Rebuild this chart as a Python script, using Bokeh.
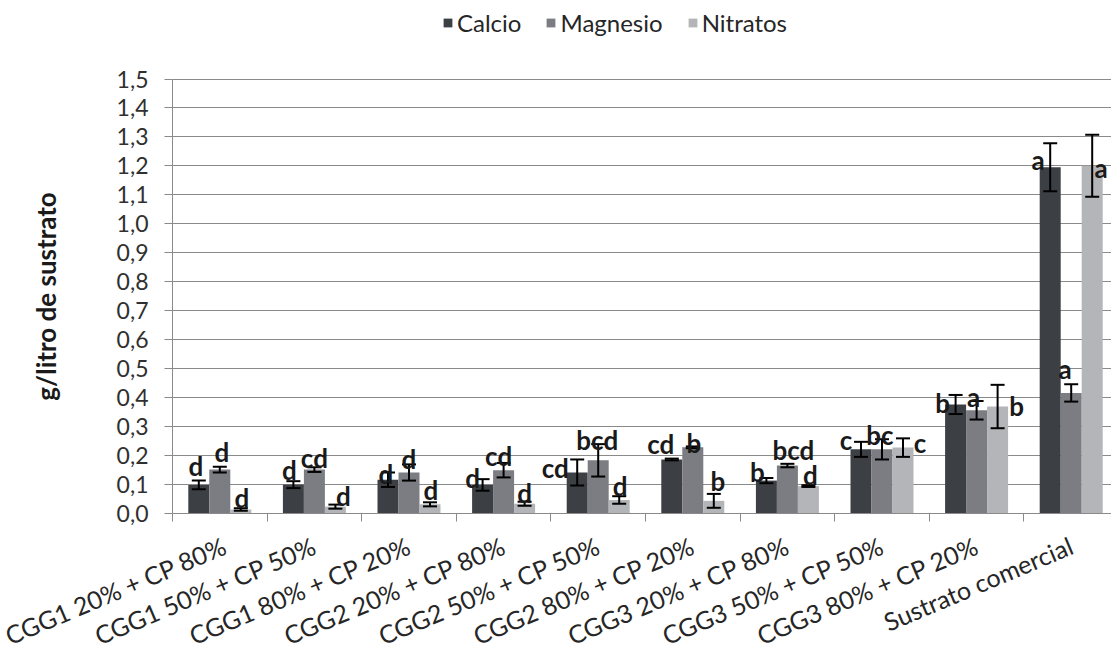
import numpy as np
from bokeh.plotting import figure
from bokeh.models import (ColumnDataSource, Range1d, FixedTicker, Whisker, TeeHead,
                          Legend, LegendItem, CustomJSTickFormatter)
from bokeh.core.properties import value
from bokeh.embed import file_html
from bokeh.resources import INLINE

# ---- data -------------------------------------------------------------
categories = ["CGG1 20% + CP 80%", "CGG1 50% + CP 50%", "CGG1 80% + CP 20%",
              "CGG2 20% + CP 80%", "CGG2 50% + CP 50%", "CGG2 80% + CP 20%",
              "CGG3 20% + CP 80%", "CGG3 50% + CP 50%", "CGG3 80% + CP 20%",
              "Sustrato comercial"]

calcio       = [0.097, 0.098, 0.115, 0.097, 0.140, 0.185, 0.112, 0.220, 0.375, 1.195]
calcio_err   = [0.015, 0.012, 0.025, 0.020, 0.045, 0.003, 0.009, 0.026, 0.033, 0.083]
magnesio     = [0.150, 0.150, 0.140, 0.148, 0.182, 0.227, 0.164, 0.220, 0.355, 0.415]
magnesio_err = [0.010, 0.008, 0.028, 0.025, 0.056, 0.003, 0.006, 0.035, 0.032, 0.030]
nitratos     = [0.012, 0.022, 0.030, 0.032, 0.045, 0.042, 0.093, 0.226, 0.368, 1.200]
nitratos_err = [0.004, 0.007, 0.007, 0.007, 0.013, 0.024, 0.003, 0.032, 0.075, 0.107]

letras_calcio   = ["d", "d", "d", "d", "cd", "cd", "b", "c", "b", "a"]
letras_magnesio = ["d", "cd", "d", "cd", "bcd", "b", "bcd", "bc", "a", "a"]
letras_nitratos = ["d", "d", "d", "d", "d", "b", "d", "c", "b", "a"]

y_ticks = [i / 10 for i in range(16)]
Y_MAX = 1.5

# ---- letter placement (pixel offsets from the top of each error bar) --
dx_calcio   = [-3, -4, -2, -10, -22, -11, -9, -15, -13, -12]
dy_calcio   = [15, 11, -2, 1, -9, 15, 6, 2, -8, -17]
dx_magnesio = [2, 0, 0, -5, -1, 1, 6, -2, -3, -6]
dy_magnesio = [15, 9, 5, 7, 4, 3, 14, 4, 4, 15]
dx_nitratos = [1, 8, 1, 0, 1, 4, 2, 17, 19, 9]
dy_nitratos = [10, 9, 12, 9, 10, 13, 10, -5, -21, -33]

series = [
    ("Calcio", calcio, calcio_err, letras_calcio, dx_calcio, dy_calcio, "#3c4045"),
    ("Magnesio", magnesio, magnesio_err, letras_magnesio, dx_magnesio, dy_magnesio, "#7c7d82"),
    ("Nitratos", nitratos, nitratos_err, letras_nitratos, dx_nitratos, dy_nitratos, "#b3b5b8"),
]

BAR_W = 0.222
FONT = "Lato"
GRID = "#8a8a8a"

# The frame fills the whole canvas. Both axes sit at fixed data locations
# (x = 0, y = 0); the margins around the value area hold the axis labels,
# the rotated category names and the legend.
W, H = 1111, 650
ZERO_X_PX = 172          # left edge of the value area
CAT_PX = 94.6            # width of one category
ZERO_PX = 512.5          # y = 0, from the top
AXIS_H = 434             # height of 0..1.5
px_per_unit = AXIS_H / Y_MAX
y_start = -(H - ZERO_PX) / px_per_unit
y_end = ZERO_PX / px_per_unit
x_start = -ZERO_X_PX / CAT_PX
x_end = (W - ZERO_X_PX) / CAT_PX

n = len(categories)
centres = [i + 0.5 for i in range(n)]
bounds = list(range(n + 1))

p = figure(width=W, height=H, output_backend="svg", toolbar_location=None,
           x_range=Range1d(x_start, x_end), y_range=Range1d(y_start, y_end),
           min_border_left=0, min_border_right=0, min_border_top=0,
           min_border_bottom=0)
p.outline_line_color = None
p.background_fill_color = "white"
p.border_fill_color = "white"

# horizontal gridlines over the value area only
if "cross_bounds" in p.ygrid[0].properties():
    p.ygrid.ticker = FixedTicker(ticks=y_ticks)
    p.ygrid.cross_bounds = (0, x_end)
    p.ygrid.grid_line_color = GRID
    p.ygrid.grid_line_width = 1
else:
    p.ygrid.visible = False
    p.segment(x0=0, x1=x_end, y0=y_ticks, y1=y_ticks,
              line_color=GRID, line_width=1, level="underlay")
p.xgrid.visible = False

renderers = []
for k, (name, vals, errs, letters, dxs, dys, color) in enumerate(series):
    offset = (k - 1) * BAR_W
    xs = [c + offset for c in centres]
    src = ColumnDataSource(dict(
        x=xs, top=vals,
        upper=[v + e for v, e in zip(vals, errs)],
        lower=[v - e for v, e in zip(vals, errs)],
        letter=letters, dx=dxs, dy=[-d for d in dys],
    ))
    r = p.vbar(x="x", top="top", bottom=0, width=BAR_W, source=src,
               fill_color=color, line_color=None)
    renderers.append((name, r))
    w = Whisker(base="x", upper="upper", lower="lower", source=src,
                line_color="black", line_width=2, level="annotation",
                upper_head=TeeHead(size=14, line_color="black", line_width=2),
                lower_head=TeeHead(size=14, line_color="black", line_width=2))
    p.add_layout(w)
    p.text(x="x", y="upper", text="letter", x_offset="dx", y_offset="dy",
           source=src, text_align="center", text_baseline="alphabetic",
           text_font=value(FONT), text_font_style="bold",
           text_font_size="26px", text_color="#1a1a1a", level="overlay")

# ---- axes -------------------------------------------------------------
xa = p.xaxis[0]
xa.fixed_location = 0
xa.bounds = (0, x_end)
xa.ticker = FixedTicker(ticks=centres, minor_ticks=bounds)
xa.major_label_overrides = {c: name for c, name in zip(centres, categories)}
xa.major_label_orientation = 0.40
xa.major_tick_out = 0
xa.major_tick_in = 0
xa.minor_tick_out = 8
xa.minor_tick_in = 0
xa.minor_tick_line_color = GRID
xa.axis_line_color = GRID
xa.major_label_text_font = FONT
xa.major_label_text_font_size = "25px"
xa.major_label_text_color = "#262626"
xa.major_label_standoff = 23

ya = p.yaxis[0]
ya.fixed_location = 0
ya.bounds = (0, Y_MAX)
ya.ticker = FixedTicker(ticks=y_ticks, minor_ticks=[])
ya.formatter = CustomJSTickFormatter(code="return tick.toFixed(1).replace('.', ',');")
ya.major_tick_out = 8
ya.major_tick_in = 0
ya.major_tick_line_color = GRID
ya.axis_line_color = GRID
ya.major_label_text_font = FONT
ya.major_label_text_font_size = "23px"
ya.major_label_text_color = "#303030"
ya.major_label_standoff = 16
ya.axis_label = "g/litro de sustrato"
ya.axis_label_text_font = FONT
ya.axis_label_text_font_style = "bold"
ya.axis_label_text_font_size = "26px"
ya.axis_label_text_color = "#1a1a1a"
ya.axis_label_standoff = 52

# ---- legend (strip above the top gridline) ----------------------------
legend = Legend(items=[LegendItem(label=nm, renderers=[r]) for nm, r in renderers],
                orientation="horizontal", location=(442, H - 37),
                glyph_width=11, glyph_height=11, label_standoff=4, spacing=24,
                padding=0, margin=0, border_line_color=None,
                background_fill_alpha=0,
                label_text_font=FONT, label_text_font_size="24px",
                label_text_color="#262626")
p.add_layout(legend, "center")

open("out.html", "w").write(file_html(p, INLINE))
